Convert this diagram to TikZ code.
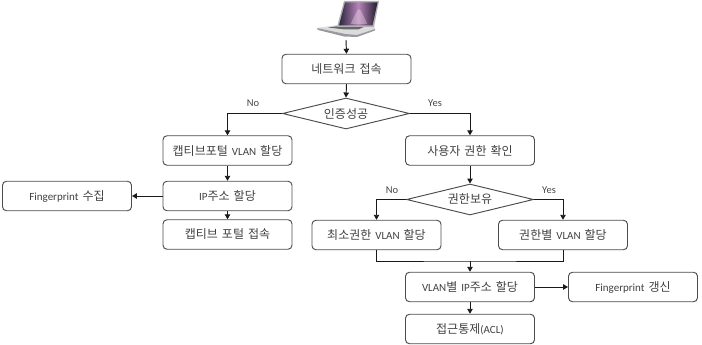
\documentclass[tikz,border=0pt]{standalone}
\usepackage{fontspec}
\setmainfont{Carlito}
\newfontfamily\hangul{Noto Sans CJK KR}
\newcommand{\widespace}{\setlength{\spaceskip}{4pt}}
\newcommand{\K}[1]{{\hangul\fontsize{12}{14}\selectfont\widespace #1}}
\newcommand{\boxfont}{\fontsize{11}{13}\selectfont\widespace}
\newcommand{\branchfont}{\fontsize{10.5}{12}\selectfont}
\usetikzlibrary{arrows.meta,shapes.geometric,positioning}
\tikzset{
  flowbox/.style={draw=black!70,line width=0.95pt,rounded corners=4pt,minimum width=129pt,minimum height=29.5pt,
    inner sep=0pt,text=black!75,font=\boxfont},
  decision/.style={draw=black!70,line width=0.95pt,diamond,aspect=4.1,inner sep=0pt,minimum width=127pt,minimum height=31pt,
    text=black!75,font=\boxfont},
  flow/.style={draw=black!90,line width=0.95pt,-{Triangle[length=5pt,width=5.5pt]}},
  plainline/.style={draw=black!90,line width=0.95pt},
  branch/.style={text=black!72,inner sep=0pt,font=\branchfont},
}
\definecolor{lapsilver}{HTML}{DCDCDE}
\definecolor{lapedge}{HTML}{9A9A9E}
\definecolor{screenglow}{HTML}{B884B8}
\definecolor{screendark}{HTML}{2B2540}
\begin{document}
\begin{tikzpicture}[x=1pt,y=-1pt]
\useasboundingbox (0,0) rectangle (702,345);

% laptop: base, keyboard, lid and screen
\fill[lapsilver] (317,28) -- (338,25) -- (374,25) -- (375,29) -- (357,36) -- (345,35) -- cycle;
\fill[lapedge] (317,28) -- (345,34) -- (357,35) -- (375,29) -- (375,30.5) -- (357,37) -- (344,36.5) -- (318,30) -- cycle;
\fill[black!60] (328,27.5) -- (339,26) -- (365,26.5) -- (358,29.5) -- (345,29.5) -- cycle;
\fill[lapsilver!80!black] (344,1) -- (379,1) -- (374,27) -- (337,27) -- cycle;
\shade[left color=screendark,right color=screendark!70!black,middle color=screenglow]
  (345,2.5) -- (377.5,2.5) -- (372.5,25.5) -- (339,25.5) -- cycle;
\fill[white,opacity=0.3] (356,13) .. controls (358,8) and (360,8) .. (362,13) .. controls (364,17) and (366,20) .. (367,24) -- (351,24) .. controls (352,20) and (354,17) .. (356,13) -- cycle;
\coordinate (laptop) at (346,40);

% flow nodes
\node[flowbox] (net) at (346.5,69) {\K{네트워크 접속}};
\node[decision] (auth) at (346,113.5) {\K{인증성공}};
\node[flowbox] (capvlan) at (227.5,150.5) {\K{캡티브포털} VLAN \K{할당}};
\node[flowbox] (role) at (470,150.5) {\K{사용자 권한 확인}};
\node[flowbox] (ip) at (227.5,196) {IP\K{주소 할당}};
\node[flowbox] (fpget) at (67,196) {Fingerprint \K{수집}};
\node[flowbox] (portal) at (227.5,234.5) {\K{캡티브 포털 접속}};
\node[decision] (perm) at (470,199.5) {\K{권한보유}};
\node[flowbox] (minvlan) at (376.5,235) {\K{최소권한} VLAN \K{할당}};
\node[flowbox] (rolevlan) at (563,235) {\K{권한별} VLAN \K{할당}};
\node[flowbox] (vlanip) at (470,287) {VLAN\K{별} IP\K{주소 할당}};
\node[flowbox] (fpupd) at (633,287) {Fingerprint \K{갱신}};
\node[flowbox] (acl) at (470,329) {\K{접근통제}(ACL)};

% branch labels
\node[branch] (n1) at (253,103) {No};
\node[branch] (y1) at (435,103) {Yes};
\node[branch] (n2) at (392,190) {No};
\node[branch] (y2) at (549,190) {Yes};

% connectors
\draw[flow] (laptop) -- (net.north);
\draw[flow] (net.south) -- (auth.north);
\draw[flow] (auth.west) -| (capvlan.north);
\draw[flow] (auth.east) -| (role.north);
\draw[flow] (capvlan.south) -- (ip.north);
\draw[flow] (ip.west) -- (fpget.east);
\draw[flow] (ip.south) -- (portal.north);
\draw[flow] (role.south) -- (perm.north);
\draw[flow] (perm.west) -| (minvlan.north);
\draw[flow] (perm.east) -| (rolevlan.north);
\coordinate (merge) at (470,261);
\draw[plainline] (minvlan.south) |- (merge) -| (rolevlan.south);
\draw[flow] (merge) -- (vlanip.north);
\draw[flow] (vlanip.east) -- (fpupd.west);
\draw[flow] (vlanip.south) -- (acl.north);
\end{tikzpicture}
\end{document}
